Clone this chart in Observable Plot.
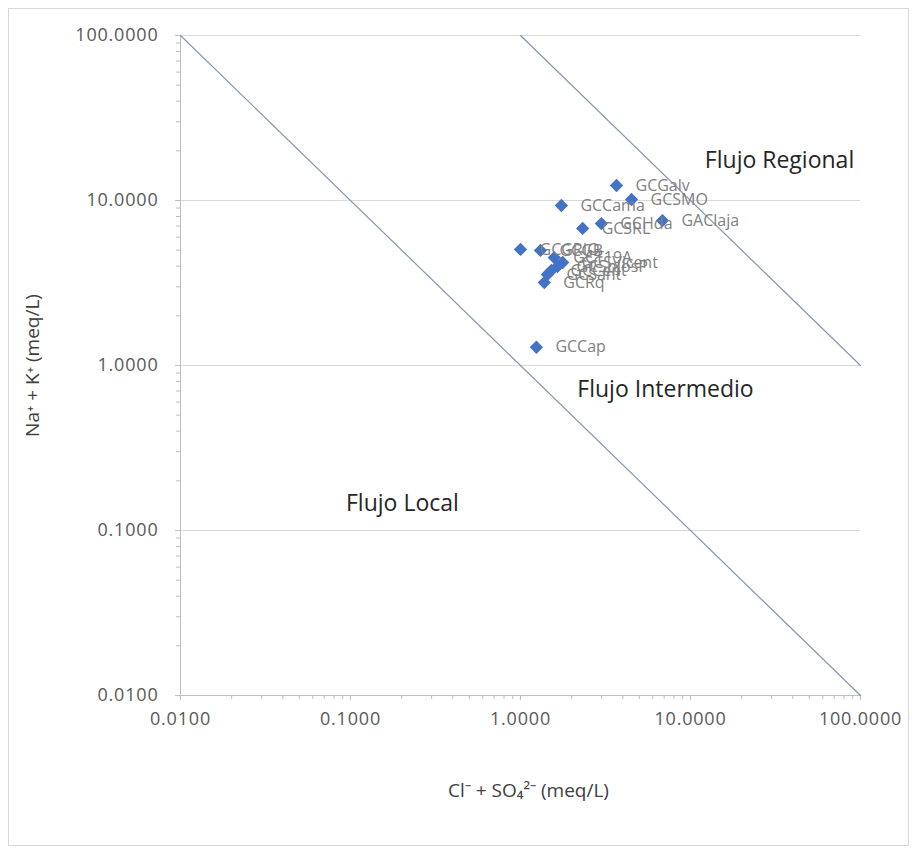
<!DOCTYPE html>
<html><head><meta charset="utf-8">
<script src="https://cdn.jsdelivr.net/npm/d3@7"></script>
<script src="https://cdn.jsdelivr.net/npm/@observablehq/plot@0.6"></script>
<style>
body{margin:0;background:#fff;}
#wrap{position:relative;width:912px;height:851px;}
#border{position:absolute;left:8px;top:8px;width:899px;height:836px;border:1px solid #d9d9d9;pointer-events:none;}
g[aria-label$="tick label"] text{letter-spacing:0.8px;}
</style></head><body><div id="wrap"><div id="border"></div></div>
<script>
// Samples (labels), Cl- + SO4 2- (meq/L), Na+ + K+ (meq/L)
const samples = ["GCGalv","GCSMO","GCCama","GAClaja","GCHda","GCSRL","GCGRIO","GCGB","GCT19A","GCSVicent","GCSnJosP","GCCent","GCSant","GCRq","GCCap"];
const chlorideSulfate = [3.67,4.50,1.74,6.84,2.99,2.32,1.00,1.31,1.58,1.77,1.65,1.52,1.44,1.38,1.24];
const sodiumPotassium = [12.33,10.14,9.33,7.56,7.25,6.77,5.05,4.98,4.51,4.21,3.98,3.77,3.56,3.18,1.29];

const tickValues = [0.01,0.1,1,10,100];
const tickLabels = ["0.0100","0.1000","1.0000","10.0000","100.0000"];

// Flow boundary lines
const boundaryLocalX = [0.01,100], boundaryLocalY = [100,0.01];
const boundaryRegionalX = [1,100], boundaryRegionalY = [100,1];

// Zone annotations
const zoneNames = ["Flujo Regional","Flujo Intermedio","Flujo Local"];
const zoneX = [33.4,7.13,0.202];
const zoneY = [17.5,0.715,0.146];

const xTitle = "Cl⁻ + SO₄²⁻ (meq/L)";
const yTitle = "Na⁺ + K⁺ (meq/L)";

const points = samples.map((s,i)=>({name:s,x:chlorideSulfate[i],y:sodiumPotassium[i]}));
const zones = zoneNames.map((s,i)=>({name:s,x:zoneX[i],y:zoneY[i]}));
const lineLocal = boundaryLocalX.map((x,i)=>({x,y:boundaryLocalY[i]}));
const lineRegional = boundaryRegionalX.map((x,i)=>({x,y:boundaryRegionalY[i]}));
const minor = [];
for (const d of [0.01,0.1,1,10]) for (let k=2;k<=9;k++) minor.push(+(d*k).toPrecision(3));
const fmt = d => tickLabels[tickValues.indexOf(d)];

const chart = Plot.plot({
  width:912, height:851,
  marginLeft:180, marginRight:52, marginTop:35, marginBottom:156,
  style:{background:"transparent", fontFamily:"'Open Sans', sans-serif"},
  x:{type:"log", domain:[0.01,100]},
  y:{type:"log", domain:[0.01,100]},
  marks:[
    Plot.ruleY(tickValues,{stroke:"#d9d9d9"}),
    Plot.ruleX([0.01],{stroke:"#bfbfbf"}),
    Plot.ruleY([0.01],{stroke:"#bfbfbf"}),
    Plot.axisY(minor,{tickSize:4, fill:"none", stroke:"#bfbfbf", label:null}),
    Plot.axisX(minor,{tickSize:4, fill:"none", stroke:"#bfbfbf", label:null}),
    Plot.axisY(tickValues,{tickSize:5, tickPadding:17, stroke:"#bfbfbf", fill:"#595959", fontSize:18, tickFormat:fmt, label:null}),
    Plot.axisX(tickValues,{tickSize:5, tickPadding:12, stroke:"#bfbfbf", fill:"#595959", fontSize:18, tickFormat:fmt, label:null}),
    Plot.line(lineLocal,{x:"x", y:"y", stroke:"#8497b0", strokeWidth:1.2}),
    Plot.line(lineRegional,{x:"x", y:"y", stroke:"#8497b0", strokeWidth:1.2}),
    Plot.dot(points,{x:"x", y:"y", symbol:"diamond2", r:6, fill:"#4472C4", stroke:"none"}),
    Plot.text(points,{x:"x", y:"y", text:"name", textAnchor:"start", dx:19, fill:"#7f7f7f", fontSize:16}),
    Plot.text(zones,{x:"x", y:"y", text:"name", fill:"#262626", fontSize:23}),
    Plot.text([yTitle],{text:d=>d, frameAnchor:"left", textAnchor:"middle", lineAnchor:"middle", dx:-148, rotate:-90, fontSize:19, fill:"#404040"}),
    Plot.text([xTitle],{text:d=>d, frameAnchor:"bottom", textAnchor:"middle", lineAnchor:"middle", dy:95, dx:8, fontSize:19, fill:"#404040"})
  ]
});
document.getElementById("wrap").prepend(chart);
</script>
</body></html>
